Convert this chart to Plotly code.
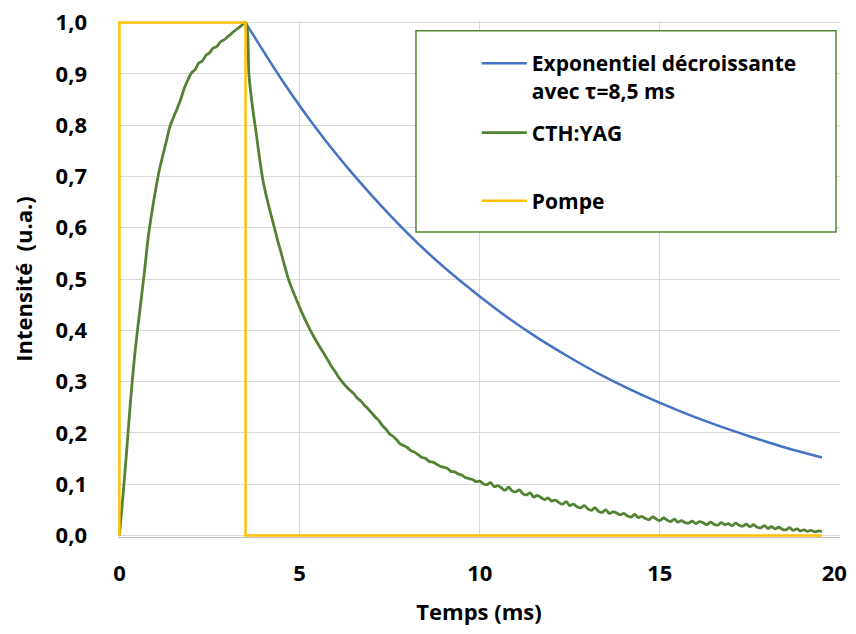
import numpy as np
import plotly.graph_objects as go

# temps (ms) pour le signal mesuré, pas de 0,1 ms
t_cth = np.round(np.arange(0, 19.55, 0.1), 1)

montee = [0.000, 0.078, 0.165, 0.255, 0.335, 0.400, 0.458, 0.518, 0.582, 0.630,
          0.672, 0.710, 0.740, 0.768, 0.797, 0.815, 0.832, 0.850, 0.872, 0.888,
          0.902, 0.908, 0.921, 0.925, 0.936, 0.941, 0.950, 0.953, 0.962, 0.966,
          0.972, 0.978, 0.984, 0.989, 0.995, 1.000]

descente = [0.893, 0.832, 0.782, 0.730,
            0.686, 0.655, 0.627, 0.600, 0.573, 0.548, 0.522, 0.498, 0.479, 0.462,
            0.445, 0.429, 0.414, 0.400, 0.387, 0.375, 0.363, 0.352, 0.340, 0.328,
            0.318, 0.307, 0.298, 0.290, 0.283, 0.277, 0.268, 0.262, 0.254, 0.247,
            0.239, 0.231, 0.224, 0.214, 0.207, 0.198, 0.193, 0.186, 0.178, 0.175,
            0.171, 0.165, 0.162, 0.157, 0.152, 0.150, 0.144, 0.143, 0.139, 0.135,
            0.133, 0.131, 0.125, 0.124, 0.120, 0.118, 0.113, 0.111, 0.109, 0.105,
            0.106, 0.101, 0.099, 0.103, 0.095, 0.097, 0.093, 0.088, 0.094, 0.087,
            0.085, 0.089, 0.081, 0.079, 0.083, 0.075, 0.078, 0.074, 0.070, 0.073,
            0.067, 0.069, 0.064, 0.061, 0.066, 0.058, 0.061, 0.056, 0.054, 0.058,
            0.052, 0.049, 0.054, 0.047, 0.045, 0.050, 0.043, 0.046, 0.044, 0.040,
            0.043, 0.038, 0.036, 0.041, 0.035, 0.037, 0.033, 0.031, 0.036, 0.032,
            0.029, 0.034, 0.030, 0.027, 0.032, 0.026, 0.029, 0.025, 0.024, 0.028,
            0.023, 0.027, 0.025, 0.021, 0.026, 0.022, 0.020, 0.025, 0.021, 0.023,
            0.019, 0.024, 0.020, 0.018, 0.022, 0.017, 0.021, 0.016, 0.015, 0.019,
            0.014, 0.017, 0.013, 0.016, 0.012, 0.011, 0.015, 0.010, 0.013, 0.009,
            0.011, 0.008, 0.010, 0.007, 0.009, 0.008]

cth_yag = montee + descente

# exponentielle tau = 8,5 ms
t_expo = [3.5, 4.5, 5.5, 6.5, 7.5, 8.5, 9.5, 10.5, 11.5, 12.5, 13.5, 14.5, 15.5,
          16.5, 17.5, 18.5, 19.5]
expo = [1.000, 0.889, 0.790, 0.703, 0.625, 0.555, 0.494, 0.439, 0.390, 0.347,
        0.308, 0.274, 0.244, 0.217, 0.193, 0.171, 0.152]

# pompe
t_pompe = [0, 0, 3.5, 3.5, 19.5]
pompe = [0, 1, 1, 0, 0]

x_ticks = [0, 5, 10, 15, 20]
x_labels = ['0', '5', '10', '15', '20\u00a0\u00a0']  # espaces : le 20 reste dans la page
y_ticks = [0, 0.1, 0.2, 0.3, 0.4, 0.5, 0.6, 0.7, 0.8, 0.9, 1.0]

BLEU = '#4472C4'
VERT = '#548235'
JAUNE = '#FFC000'

fig = go.Figure()
fig.add_scatter(x=t_expo, y=expo, mode='lines', line=dict(color=BLEU, width=2.5, shape='spline'),
                name='Exponentiel décroissante<br>avec τ=8,5 ms', legend='legend', showlegend=True)
fig.add_scatter(x=t_cth, y=cth_yag, mode='lines', line=dict(color=VERT, width=2.8, shape='spline'),
                name='CTH:YAG', legend='legend2', showlegend=True)
fig.add_scatter(x=t_pompe, y=pompe, mode='lines', line=dict(color=JAUNE, width=2.5),
                name='Pompe', legend='legend3', showlegend=True)

# la page ajoute 8 px de marge autour de la figure
leg = dict(bgcolor='rgba(0,0,0,0)', borderwidth=0, xanchor='left', yanchor='middle',
           valign='top', itemwidth=45, font=dict(family='Open Sans', size=21, color='black', weight='bold'))
fig.update_layout(
    width=840, height=618,
    margin=dict(l=110, r=8, t=13, b=89, autoexpand=False),
    plot_bgcolor='white', paper_bgcolor='white',
    separators=', ',
    showlegend=True,
    font=dict(family='Open Sans', color='black', size=22, weight='bold'),
    legend=dict(leg, x=0.497, y=0.8915),
    legend2=dict(leg, x=0.497, y=0.783),
    legend3=dict(leg, x=0.497, y=0.651),
    shapes=[dict(type='rect', xref='paper', yref='paper', x0=0.4127, x1=0.9945, y0=0.591, y1=0.981,
                 line=dict(color=VERT, width=1.5), fillcolor='white', layer='above')],
)
fig.update_xaxes(range=[-0.04, 20], tickvals=x_ticks, ticktext=x_labels, showgrid=True,
                 gridcolor='#D9D9D9', gridwidth=1.3, showline=True, linecolor='#BFBFBF', linewidth=1.3,
                 zeroline=False, ticks='', layer='below traces', automargin=False,
                 ticklabeloverflow='allow', ticklabelstandoff=16, tickfont=dict(size=22),
                 title=dict(text='Temps (ms)', standoff=20, font=dict(size=22)))
fig.update_yaxes(range=[-0.003, 1.003], tickvals=y_ticks, tickformat='.1f', showgrid=True,
                 gridcolor='#D9D9D9', automargin=False, gridwidth=1.3, zeroline=False, showline=False,
                 ticks='', layer='below traces', ticklabeloverflow='allow', ticklabelstandoff=30,
                 tickfont=dict(size=22),
                 title=dict(text='Intensité\u00a0\u00a0(u.a.)', standoff=19, font=dict(size=22)))

fig.write_html('out.html')
